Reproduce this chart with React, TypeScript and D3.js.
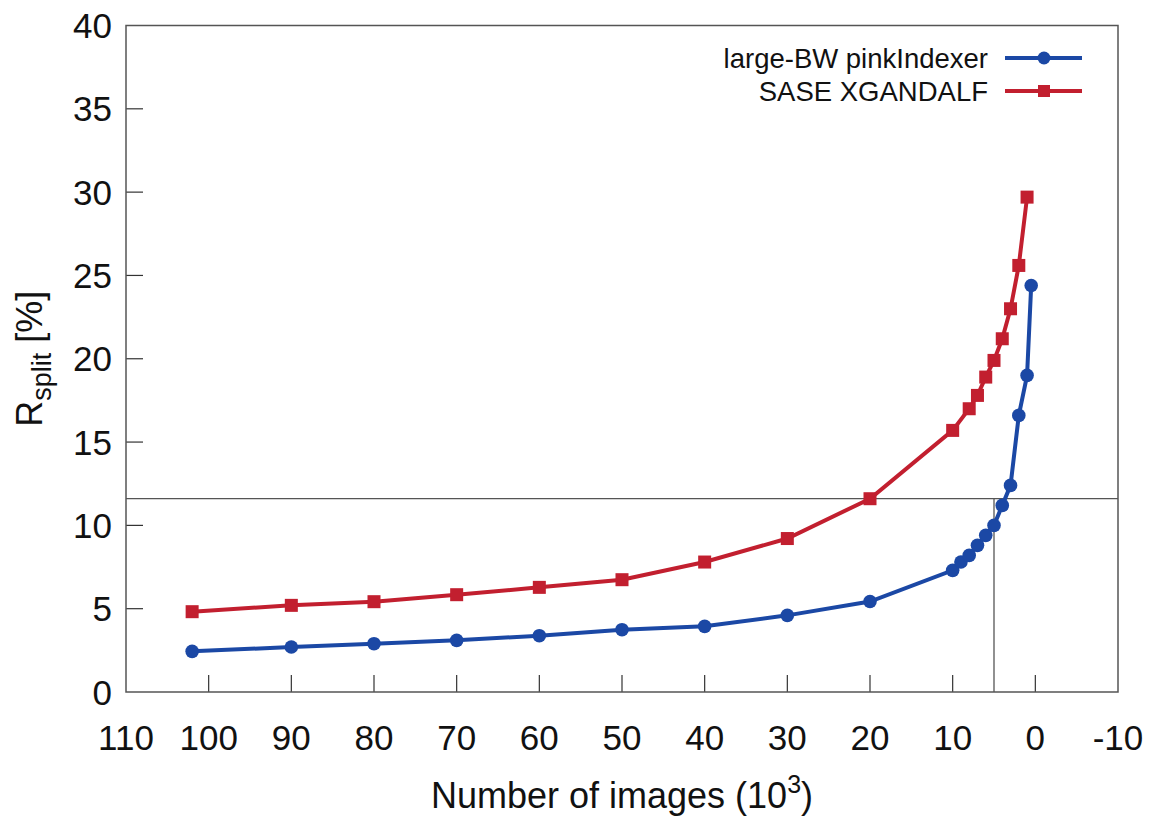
import React from "react";
import * as d3 from "d3";

// number of images (10^3) and Rsplit (%) per series
const pinkX = [102, 90, 80, 70, 60, 50, 40, 30, 20, 10, 9, 8, 7, 6, 5, 4, 3, 2, 1, 0.5];
const pinkY = [2.44, 2.7, 2.9, 3.1, 3.38, 3.74, 3.94, 4.6, 5.43, 7.3, 7.8, 8.2, 8.8, 9.4, 10.0, 11.2, 12.4, 16.6, 19.0, 24.4];
const xgX = [102, 90, 80, 70, 60, 50, 40, 30, 20, 10, 8, 7, 6, 5, 4, 3, 2, 1];
const xgY = [4.82, 5.2, 5.42, 5.84, 6.28, 6.74, 7.8, 9.21, 11.6, 15.7, 17.0, 17.8, 18.9, 19.9, 21.2, 23.0, 25.6, 29.7];

const xTicks = [110, 100, 90, 80, 70, 60, 50, 40, 30, 20, 10, 0, -10];
const yTicks = [0, 5, 10, 15, 20, 25, 30, 35, 40];

// guide lines
const refX = 5;
const refY = 11.6;

const seriesNames = ["large-BW pinkIndexer", "SASE XGANDALF"];
const BLUE = "#1b48a5";
const RED = "#c21f2f";

const W = 1149, H = 816;
const FONT = "'Liberation Sans', Arial, sans-serif";

export default function App() {
  const x = d3.scaleLinear().domain([110, -10]).range([126, 1118]);
  const y = d3.scaleLinear().domain([0, 40]).range([692, 25.5]);

  const line = d3.line<[number, number]>().x(d => x(d[0])).y(d => y(d[1]));
  const pink: [number, number][] = pinkX.map((v, i) => [v, pinkY[i]]);
  const xg: [number, number][] = xgX.map((v, i) => [v, xgY[i]]);

  const axisColor = "#555";
  const [x0, x1] = x.range();
  const [y0, y1] = y.range();

  return (
    <svg width={W} height={H} style={{ position: "absolute", left: 0, top: 0, background: "#fff" }} fontFamily={FONT}>
      {/* guide lines */}
      <line x1={x0} x2={x1} y1={y(refY)} y2={y(refY)} stroke={axisColor} strokeWidth={1.3} />
      <line x1={x(refX)} x2={x(refX)} y1={y0} y2={y(refY)} stroke={axisColor} strokeWidth={1.3} />

      {/* ticks */}
      {xTicks.map(t => (
        <g key={"x" + t}>
          {t < 110 && t > -10 && <line x1={x(t)} x2={x(t)} y1={y0} y2={y0 - 17} stroke="#333" strokeWidth={1.2} />}
          <text x={x(t)} y={750} textAnchor="middle" fontSize={35} fill="#111">{t}</text>
        </g>
      ))}
      {yTicks.map(t => (
        <g key={"y" + t}>
          {t > 0 && t < 40 && <line x1={x0} x2={x0 + 17} y1={y(t)} y2={y(t)} stroke="#333" strokeWidth={1.2} />}
          <text x={112} y={y(t) + 12.5} textAnchor="end" fontSize={35} fill="#111">{t}</text>
        </g>
      ))}

      {/* frame */}
      <rect x={x0} y={y1} width={x1 - x0} height={y0 - y1} fill="none" stroke={axisColor} strokeWidth={1.5} />

      {/* series */}
      <path d={line(xg) || ""} fill="none" stroke={RED} strokeWidth={4} />
      {xg.map((d, i) => (
        <rect key={"r" + i} x={x(d[0]) - 6.5} y={y(d[1]) - 6.5} width={13} height={13} fill={RED} />
      ))}
      <path d={line(pink) || ""} fill="none" stroke={BLUE} strokeWidth={4} />
      {pink.map((d, i) => (
        <circle key={"c" + i} cx={x(d[0])} cy={y(d[1])} r={6.8} fill={BLUE} />
      ))}

      {/* legend */}
      <g>
        <text x={988} y={68} textAnchor="end" fontSize={27.5} fill="#111">{seriesNames[0]}</text>
        <line x1={1005} x2={1082} y1={58} y2={58} stroke={BLUE} strokeWidth={4} />
        <circle cx={1044} cy={58} r={6.5} fill={BLUE} />
        <text x={988} y={101} textAnchor="end" fontSize={27.5} fill="#111">{seriesNames[1]}</text>
        <line x1={1005} x2={1082} y1={91} y2={91} stroke={RED} strokeWidth={4} />
        <rect x={1038} y={85} width={12} height={12} fill={RED} />
      </g>

      {/* axis titles */}
      <text x={(x0 + x1) / 2} y={808} textAnchor="middle" fontSize={36} fill="#111">
        Number of images (10<tspan dy={-15} fontSize={25}>3</tspan><tspan dy={15}>)</tspan>
      </text>
      <text transform={`translate(42, ${(y0 + y1) / 2}) rotate(-90)`} textAnchor="middle" fontSize={36} fill="#111">
        R<tspan dy={9} fontSize={27}>split</tspan><tspan dy={-9}> [%]</tspan>
      </text>
    </svg>
  );
}
